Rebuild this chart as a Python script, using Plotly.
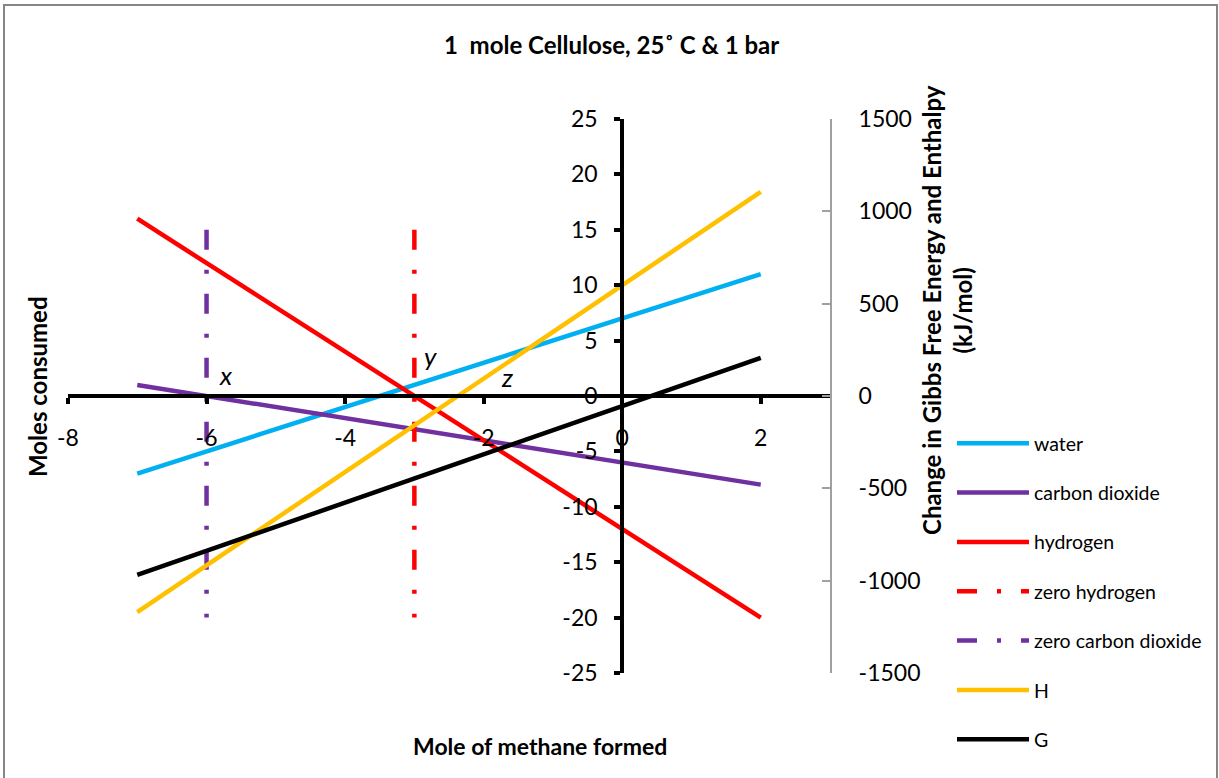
import plotly.graph_objects as go

# ---- data ----
methane = [-7, -6, -5, -4, -3, -2, -1, 0, 1, 2]
water = [-7, -5, -3, -1, 1, 3, 5, 7, 9, 11]
carbon_dioxide = [1, 0, -1, -2, -3, -4, -5, -6, -7, -8]
hydrogen = [16, 12, 8, 4, 0, -4, -8, -12, -16, -20]
zero_h2_x = [-3, -3]
zero_h2_y = [15, -20]
zero_co2_x = [-6, -6]
zero_co2_y = [15, -20]
enthalpy_H = [-1170, -917, -664, -412, -159, 94, 347, 600, 852, 1105]
gibbs_G = [-969, -838, -708, -577, -447, -316, -186, -55, 75, 206]

point_labels = ["x", "y", "z"]
point_label_x = [-5.72, -2.77, -1.66]
point_label_y = [1.9, 3.6, 1.7]

x_ticks = [-8, -6, -4, -2, 0, 2]
y_ticks = [-25, -20, -15, -10, -5, 0, 5, 10, 15, 20, 25]
y2_ticks = [-1500, -1000, -500, 0, 500, 1000, 1500]

FONT = "Lato"
W, H = 1219, 778
ML, MR, MT, MB = 68, 389, 119, 105
PW, PH = W - ML - MR, H - MT - MB
LW = 4.5


def px(xp):
    return (xp - ML) / PW


def py(yp):
    return (H - MB - yp) / PH


fig = go.Figure()
dashdot = "20px,20px,4px,20px"
fig.add_trace(go.Scatter(x=methane, y=water, mode="lines", name="water",
                         line=dict(color="#00B0F0", width=LW)))
fig.add_trace(go.Scatter(x=methane, y=carbon_dioxide, mode="lines", name="carbon dioxide",
                         line=dict(color="#7030A0", width=LW)))
fig.add_trace(go.Scatter(x=methane, y=hydrogen, mode="lines", name="hydrogen",
                         line=dict(color="#FF0000", width=LW)))
fig.add_trace(go.Scatter(x=zero_h2_x, y=zero_h2_y, mode="lines", name="zero hydrogen",
                         line=dict(color="#FF0000", width=LW, dash=dashdot)))
fig.add_trace(go.Scatter(x=zero_co2_x, y=zero_co2_y, mode="lines", name="zero carbon dioxide",
                         line=dict(color="#7030A0", width=LW, dash=dashdot)))
fig.add_trace(go.Scatter(x=methane, y=enthalpy_H, mode="lines", name="H", yaxis="y2",
                         line=dict(color="#FFC000", width=LW)))
fig.add_trace(go.Scatter(x=methane, y=gibbs_G, mode="lines", name="G", yaxis="y2",
                         line=dict(color="#000000", width=LW)))

for t, xx, yy in zip(point_labels, point_label_x, point_label_y):
    fig.add_annotation(x=xx, y=yy, xref="x", yref="y", text="<i>%s</i>" % t, showarrow=False,
                       font=dict(family=FONT, size=26, color="black"))

annos = [
    dict(text="<b>1  mole Cellulose, 25˚ C & 1 bar</b>", x=px(611), y=py(44), size=24, angle=0),
    dict(text="<b>Mole of methane formed</b>", x=px(540), y=py(746), size=23, angle=0),
    dict(text="<b>Moles consumed</b>", x=px(37), y=py(387), size=24, angle=-90),
    dict(text="<b>Change in Gibbs Free Energy and Enthalpy<br>(kJ/mol)</b>", x=px(947), y=py(310),
         size=24, angle=-90),
]
for a in annos:
    fig.add_annotation(x=a["x"], y=a["y"], xref="paper", yref="paper", text=a["text"],
                       showarrow=False, textangle=a["angle"], xanchor="center", yanchor="middle",
                       font=dict(family=FONT, size=a["size"], color="black"))

fig.add_shape(type="rect", xref="paper", yref="paper", x0=px(4), x1=px(1217), y0=py(5), y1=py(800),
              line=dict(color="#868686", width=2), fillcolor="rgba(0,0,0,0)", layer="below")

tick_font = dict(family=FONT, size=23, color="black")
fig.update_layout(
    width=W, height=H,
    margin=dict(l=ML, r=MR, t=MT, b=MB, pad=0, autoexpand=False),
    paper_bgcolor="white", plot_bgcolor="white",
    font=dict(family=FONT, size=21, color="black"),
    showlegend=True,
    legend=dict(xref="container", yref="container", x=952 / W, y=1 - 424 / H,
                xanchor="left", yanchor="top",
                font=dict(family=FONT, size=19.5, color="black"),
                itemwidth=72, tracegroupgap=21, bgcolor="rgba(0,0,0,0)"),
    xaxis=dict(range=[-8, 3], domain=[0, 1], anchor="free", position=0.5,
               tickmode="array", tickvals=x_ticks, ticktext=[str(v) for v in x_ticks],
               ticks="outside", ticklen=6, tickwidth=4,
               tickcolor="black", showline=True, linewidth=4, linecolor="black",
               showgrid=False, zeroline=False, ticklabelstandoff=14, tickfont=tick_font),
    yaxis=dict(range=[-25, 25], domain=[0, 1], anchor="free", position=8 / 11,
               tickmode="array", tickvals=y_ticks, ticktext=[str(v) for v in y_ticks],
               ticks="outside", ticklen=6, tickwidth=4,
               tickcolor="black", showline=True, linewidth=4, linecolor="black",
               showgrid=False, zeroline=False, ticklabelstandoff=12, tickfont=tick_font),
    yaxis2=dict(range=[-1500, 1500], overlaying="y", side="right", anchor="x",
                tickmode="array", tickvals=y2_ticks, ticktext=[str(v) for v in y2_ticks],
                ticks="inside", ticklen=8, tickwidth=2,
                tickcolor="#A0A0A0", showline=True, linewidth=2, linecolor="#A0A0A0",
                showgrid=False, zeroline=False, ticklabelstandoff=22, tickfont=tick_font),
)
for i, tr in enumerate(fig.data):
    tr.legendgroup = "g%d" % i

fig.write_html(
    "out.html",
    config={"displayModeBar": False},
    post_script=(
        "var d=document.getElementById('{plot_id}');"
        "var s=[document.documentElement, document.body, d.parentElement];"
        "for (var i=0;i<s.length;i++){s[i].style.margin='0';s[i].style.padding='0';"
        "s[i].style.height='778px';s[i].style.overflow='hidden';}"
    ),
)
